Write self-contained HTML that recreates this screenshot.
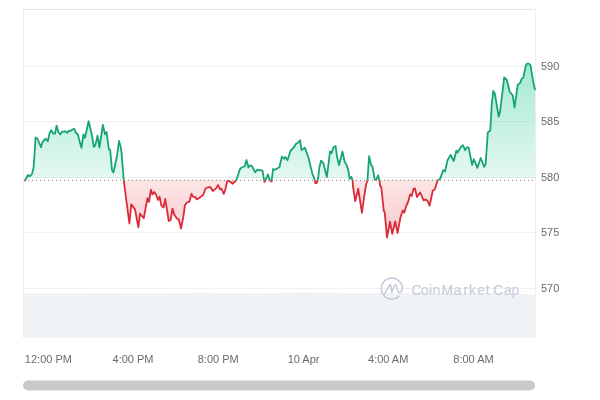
<!DOCTYPE html>
<html><head><meta charset="utf-8"><title>Chart</title>
<style>
html,body{margin:0;padding:0;background:#fff;}
body{width:600px;height:400px;overflow:hidden;position:relative;font-family:"Liberation Sans",Arial,sans-serif;}
svg{position:absolute;left:0;top:0;display:block}
.xl{font-size:11px;fill:#6b6b70}
.yl{font-size:11px;fill:#6b6b70}
.wm{font-size:14px;fill:#c9cdda;stroke:#c9cdda;stroke-width:0.15px}
</style></head><body>
<svg width="600" height="400" viewBox="0 0 600 400">
<defs>
<linearGradient id="gg" gradientUnits="userSpaceOnUse" x1="0" y1="63" x2="0" y2="180.4">
<stop offset="0" stop-color="#16c784" stop-opacity="0.39"/>
<stop offset="1" stop-color="#16c784" stop-opacity="0.11"/>
</linearGradient>
<linearGradient id="rg" gradientUnits="userSpaceOnUse" x1="0" y1="180.4" x2="0" y2="240">
<stop offset="0" stop-color="#ea3943" stop-opacity="0.13"/>
<stop offset="1" stop-color="#ea3943" stop-opacity="0.28"/>
</linearGradient>
<clipPath id="up"><rect x="0" y="0" width="600" height="180.4"/></clipPath>
<clipPath id="upf"><rect x="0" y="0" width="600" height="178"/></clipPath>
<clipPath id="dnf"><rect x="0" y="179.8" width="600" height="220"/></clipPath>
<clipPath id="dn"><rect x="0" y="180.4" width="600" height="219.6"/></clipPath>
</defs>
<!-- grid -->
<g stroke="#f0f0f0" stroke-width="1" shape-rendering="crispEdges">
<line x1="23" x2="536" y1="66.5" y2="66.5"/>
<line x1="23" x2="536" y1="121.5" y2="121.5"/>
<line x1="23" x2="536" y1="177.5" y2="177.5"/>
<line x1="23" x2="536" y1="232.5" y2="232.5"/>
<line x1="23" x2="536" y1="288.5" y2="288.5"/>
</g>
<!-- volume -->
<path d="M23,293.5 L60,293.6 L100,293 L150,293.4 L200,292.8 L260,293.2 L300,292.6 L360,293 L420,292.8 L470,293.2 L510,293 L520,293.6 L527,294.6 L535.5,295 L535.5,337.8 L23,337.8 Z" fill="#f0f3f6"/>
<!-- frame -->
<g stroke="#eeeeee" stroke-width="1" fill="none" shape-rendering="crispEdges">
<path d="M23.5,337.5 V9.5 M535.5,9.5 V337.5"/>
<path d="M23,9.5 H536" stroke="#e8e8e8"/>
</g>
<!-- areas -->
<path d="M25,180.5 L28,175 L30,176.2 L32,174 L33.5,168 L34.5,155 L35.6,137.5 L37.5,138.75 L41,147.25 L42.5,141.9 L45.6,138.75 L47.75,141.25 L49.75,132.5 L51.25,130.25 L53.1,133.5 L55,133.5 L56.6,125.6 L58.5,132.5 L60.25,134.4 L62.25,131.5 L63.75,131.9 L65.25,131.25 L67.25,132.9 L69.1,130.6 L70.6,131 L72.5,129.4 L74.4,129 L76,133.1 L77.75,134 L79.75,141.9 L81.5,147.75 L83.4,134.4 L85,137.75 L88.6,121.2 L91.9,135 L93.75,146.9 L95.25,145.6 L97.5,135.6 L99.4,147.5 L102.9,125 L105,134.4 L106.5,131.9 L108.75,148.75 L110.2,150.25 L112,170 L113.5,172.5 L115.6,162.5 L117,156 L119,141 L120.6,146.25 L121.5,152 L123.75,180.3 L125,190 L126.25,200 L129.4,223.5 L131.25,204.4 L135,209.4 L138.4,227.25 L140,213.75 L143.75,218.1 L147.5,198.1 L149,201.9 L150.9,189.75 L152.5,194.4 L154.2,191.9 L156.1,194.7 L158,200 L159.6,196.7 L161.4,205.6 L163.5,207.5 L165.25,199 L168.75,221 L170.6,220 L172.5,208.75 L174.4,215 L176.9,218.5 L178.75,219.4 L181,228.5 L183.1,218.1 L185,205 L186.9,202.5 L189.4,201.7 L191.5,193.75 L193.1,196.9 L195,196.9 L196.9,199.4 L200.6,196.9 L203.1,195 L205.6,188.5 L208.1,187.25 L210.6,187.25 L212.75,191 L216.25,188.1 L218.1,185 L220,189.4 L221.5,188.75 L223.75,194 L225.6,188.5 L227.25,181 L229.4,181 L232.5,183.75 L236.25,180.25 L238.1,175 L239.75,169.4 L241.9,167.25 L244.75,166.5 L246.5,160 L248.4,167.5 L250,165.3 L251.9,166 L253.75,169.5 L255.25,172.25 L257.25,169.75 L262.5,170.6 L264.4,181.9 L265.6,180 L267.9,174.4 L269.75,180 L271.5,181.5 L273.1,169 L275,169.75 L279.4,167.25 L281.9,156.5 L284,158.75 L285.25,156.9 L287.5,160.25 L290.6,150.6 L293.75,147.5 L296.25,143.5 L298.1,142.75 L300,140.25 L301.5,150 L305,147.75 L308.75,158.75 L312.5,174.4 L314,177.5 L315.4,183.2 L316.6,183 L317.8,180.5 L319.4,167.5 L321,160.6 L323.1,162.6 L326.9,176.9 L330,151.5 L331.6,153.1 L333.5,147.25 L335.6,146 L336.9,156.25 L339,165 L342.5,151.5 L344.75,162.25 L346.25,164 L348.1,169.4 L349.75,178.75 L351.25,176.9 L352.75,180.6 L352.8,185 L355.2,201.2 L358.2,188.75 L361.95,212.75 L364.2,196.25 L366,185 L367.5,180 L369.1,156.25 L370.9,164.4 L372.5,166.9 L374.75,179.75 L376.25,179.75 L378.1,175.25 L379.4,180.6 L380.25,186.25 L381.3,187.2 L383.7,210.5 L384.75,212.75 L387,237.5 L390,221.75 L392.25,233.75 L395.25,221.3 L397.5,233 L400.5,217.25 L402.75,210.5 L404.25,212.75 L406.2,206 L408,202.25 L410.25,194.3 L411.75,195.8 L413.5,188.8 L415,188.5 L417,197 L420.15,192.5 L423.65,200.4 L425.75,199.5 L427.5,200.9 L429.6,205.6 L432.75,190.75 L434.85,189.35 L437.65,180.6 L440.1,178.85 L443.25,170.1 L445,171.5 L447.6,160.1 L450.6,154.9 L453.75,161 L456.4,150.5 L457.6,152.6 L460.75,147 L463,145.25 L465.1,150.15 L466.9,147.35 L468.6,147.35 L472.1,164.8 L473.9,159.25 L477.4,167.8 L480.7,158 L484.2,166.8 L485.6,164 L487.8,132.5 L490.3,130.5 L491.7,105 L493.25,91 L494.75,93.25 L498.7,116.5 L500,112 L504.2,77.5 L506.75,79.75 L509.75,91.75 L512.75,95.5 L514.55,107.5 L517.7,85 L520.25,82.75 L521.75,78.7 L523.25,77.8 L525.8,65.8 L527,63.7 L528.8,63.7 L530.45,65.2 L532.25,76 L534.2,86.5 L535,89.5 L535,178 L25,178 Z" fill="url(#gg)" clip-path="url(#upf)"/>
<path d="M25,180.5 L28,175 L30,176.2 L32,174 L33.5,168 L34.5,155 L35.6,137.5 L37.5,138.75 L41,147.25 L42.5,141.9 L45.6,138.75 L47.75,141.25 L49.75,132.5 L51.25,130.25 L53.1,133.5 L55,133.5 L56.6,125.6 L58.5,132.5 L60.25,134.4 L62.25,131.5 L63.75,131.9 L65.25,131.25 L67.25,132.9 L69.1,130.6 L70.6,131 L72.5,129.4 L74.4,129 L76,133.1 L77.75,134 L79.75,141.9 L81.5,147.75 L83.4,134.4 L85,137.75 L88.6,121.2 L91.9,135 L93.75,146.9 L95.25,145.6 L97.5,135.6 L99.4,147.5 L102.9,125 L105,134.4 L106.5,131.9 L108.75,148.75 L110.2,150.25 L112,170 L113.5,172.5 L115.6,162.5 L117,156 L119,141 L120.6,146.25 L121.5,152 L123.75,180.3 L125,190 L126.25,200 L129.4,223.5 L131.25,204.4 L135,209.4 L138.4,227.25 L140,213.75 L143.75,218.1 L147.5,198.1 L149,201.9 L150.9,189.75 L152.5,194.4 L154.2,191.9 L156.1,194.7 L158,200 L159.6,196.7 L161.4,205.6 L163.5,207.5 L165.25,199 L168.75,221 L170.6,220 L172.5,208.75 L174.4,215 L176.9,218.5 L178.75,219.4 L181,228.5 L183.1,218.1 L185,205 L186.9,202.5 L189.4,201.7 L191.5,193.75 L193.1,196.9 L195,196.9 L196.9,199.4 L200.6,196.9 L203.1,195 L205.6,188.5 L208.1,187.25 L210.6,187.25 L212.75,191 L216.25,188.1 L218.1,185 L220,189.4 L221.5,188.75 L223.75,194 L225.6,188.5 L227.25,181 L229.4,181 L232.5,183.75 L236.25,180.25 L238.1,175 L239.75,169.4 L241.9,167.25 L244.75,166.5 L246.5,160 L248.4,167.5 L250,165.3 L251.9,166 L253.75,169.5 L255.25,172.25 L257.25,169.75 L262.5,170.6 L264.4,181.9 L265.6,180 L267.9,174.4 L269.75,180 L271.5,181.5 L273.1,169 L275,169.75 L279.4,167.25 L281.9,156.5 L284,158.75 L285.25,156.9 L287.5,160.25 L290.6,150.6 L293.75,147.5 L296.25,143.5 L298.1,142.75 L300,140.25 L301.5,150 L305,147.75 L308.75,158.75 L312.5,174.4 L314,177.5 L315.4,183.2 L316.6,183 L317.8,180.5 L319.4,167.5 L321,160.6 L323.1,162.6 L326.9,176.9 L330,151.5 L331.6,153.1 L333.5,147.25 L335.6,146 L336.9,156.25 L339,165 L342.5,151.5 L344.75,162.25 L346.25,164 L348.1,169.4 L349.75,178.75 L351.25,176.9 L352.75,180.6 L352.8,185 L355.2,201.2 L358.2,188.75 L361.95,212.75 L364.2,196.25 L366,185 L367.5,180 L369.1,156.25 L370.9,164.4 L372.5,166.9 L374.75,179.75 L376.25,179.75 L378.1,175.25 L379.4,180.6 L380.25,186.25 L381.3,187.2 L383.7,210.5 L384.75,212.75 L387,237.5 L390,221.75 L392.25,233.75 L395.25,221.3 L397.5,233 L400.5,217.25 L402.75,210.5 L404.25,212.75 L406.2,206 L408,202.25 L410.25,194.3 L411.75,195.8 L413.5,188.8 L415,188.5 L417,197 L420.15,192.5 L423.65,200.4 L425.75,199.5 L427.5,200.9 L429.6,205.6 L432.75,190.75 L434.85,189.35 L437.65,180.6 L440.1,178.85 L443.25,170.1 L445,171.5 L447.6,160.1 L450.6,154.9 L453.75,161 L456.4,150.5 L457.6,152.6 L460.75,147 L463,145.25 L465.1,150.15 L466.9,147.35 L468.6,147.35 L472.1,164.8 L473.9,159.25 L477.4,167.8 L480.7,158 L484.2,166.8 L485.6,164 L487.8,132.5 L490.3,130.5 L491.7,105 L493.25,91 L494.75,93.25 L498.7,116.5 L500,112 L504.2,77.5 L506.75,79.75 L509.75,91.75 L512.75,95.5 L514.55,107.5 L517.7,85 L520.25,82.75 L521.75,78.7 L523.25,77.8 L525.8,65.8 L527,63.7 L528.8,63.7 L530.45,65.2 L532.25,76 L534.2,86.5 L535,89.5 L535,179.8 L25,179.8 Z" fill="url(#rg)" clip-path="url(#dnf)"/>
<!-- baseline -->
<line x1="24" x2="536" y1="180.4" y2="180.4" stroke="#707070" stroke-width="0.9" stroke-dasharray="1 3"/>
<!-- lines -->
<path d="M25,180.5 L28,175 L30,176.2 L32,174 L33.5,168 L34.5,155 L35.6,137.5 L37.5,138.75 L41,147.25 L42.5,141.9 L45.6,138.75 L47.75,141.25 L49.75,132.5 L51.25,130.25 L53.1,133.5 L55,133.5 L56.6,125.6 L58.5,132.5 L60.25,134.4 L62.25,131.5 L63.75,131.9 L65.25,131.25 L67.25,132.9 L69.1,130.6 L70.6,131 L72.5,129.4 L74.4,129 L76,133.1 L77.75,134 L79.75,141.9 L81.5,147.75 L83.4,134.4 L85,137.75 L88.6,121.2 L91.9,135 L93.75,146.9 L95.25,145.6 L97.5,135.6 L99.4,147.5 L102.9,125 L105,134.4 L106.5,131.9 L108.75,148.75 L110.2,150.25 L112,170 L113.5,172.5 L115.6,162.5 L117,156 L119,141 L120.6,146.25 L121.5,152 L123.75,180.3 L125,190 L126.25,200 L129.4,223.5 L131.25,204.4 L135,209.4 L138.4,227.25 L140,213.75 L143.75,218.1 L147.5,198.1 L149,201.9 L150.9,189.75 L152.5,194.4 L154.2,191.9 L156.1,194.7 L158,200 L159.6,196.7 L161.4,205.6 L163.5,207.5 L165.25,199 L168.75,221 L170.6,220 L172.5,208.75 L174.4,215 L176.9,218.5 L178.75,219.4 L181,228.5 L183.1,218.1 L185,205 L186.9,202.5 L189.4,201.7 L191.5,193.75 L193.1,196.9 L195,196.9 L196.9,199.4 L200.6,196.9 L203.1,195 L205.6,188.5 L208.1,187.25 L210.6,187.25 L212.75,191 L216.25,188.1 L218.1,185 L220,189.4 L221.5,188.75 L223.75,194 L225.6,188.5 L227.25,181 L229.4,181 L232.5,183.75 L236.25,180.25 L238.1,175 L239.75,169.4 L241.9,167.25 L244.75,166.5 L246.5,160 L248.4,167.5 L250,165.3 L251.9,166 L253.75,169.5 L255.25,172.25 L257.25,169.75 L262.5,170.6 L264.4,181.9 L265.6,180 L267.9,174.4 L269.75,180 L271.5,181.5 L273.1,169 L275,169.75 L279.4,167.25 L281.9,156.5 L284,158.75 L285.25,156.9 L287.5,160.25 L290.6,150.6 L293.75,147.5 L296.25,143.5 L298.1,142.75 L300,140.25 L301.5,150 L305,147.75 L308.75,158.75 L312.5,174.4 L314,177.5 L315.4,183.2 L316.6,183 L317.8,180.5 L319.4,167.5 L321,160.6 L323.1,162.6 L326.9,176.9 L330,151.5 L331.6,153.1 L333.5,147.25 L335.6,146 L336.9,156.25 L339,165 L342.5,151.5 L344.75,162.25 L346.25,164 L348.1,169.4 L349.75,178.75 L351.25,176.9 L352.75,180.6 L352.8,185 L355.2,201.2 L358.2,188.75 L361.95,212.75 L364.2,196.25 L366,185 L367.5,180 L369.1,156.25 L370.9,164.4 L372.5,166.9 L374.75,179.75 L376.25,179.75 L378.1,175.25 L379.4,180.6 L380.25,186.25 L381.3,187.2 L383.7,210.5 L384.75,212.75 L387,237.5 L390,221.75 L392.25,233.75 L395.25,221.3 L397.5,233 L400.5,217.25 L402.75,210.5 L404.25,212.75 L406.2,206 L408,202.25 L410.25,194.3 L411.75,195.8 L413.5,188.8 L415,188.5 L417,197 L420.15,192.5 L423.65,200.4 L425.75,199.5 L427.5,200.9 L429.6,205.6 L432.75,190.75 L434.85,189.35 L437.65,180.6 L440.1,178.85 L443.25,170.1 L445,171.5 L447.6,160.1 L450.6,154.9 L453.75,161 L456.4,150.5 L457.6,152.6 L460.75,147 L463,145.25 L465.1,150.15 L466.9,147.35 L468.6,147.35 L472.1,164.8 L473.9,159.25 L477.4,167.8 L480.7,158 L484.2,166.8 L485.6,164 L487.8,132.5 L490.3,130.5 L491.7,105 L493.25,91 L494.75,93.25 L498.7,116.5 L500,112 L504.2,77.5 L506.75,79.75 L509.75,91.75 L512.75,95.5 L514.55,107.5 L517.7,85 L520.25,82.75 L521.75,78.7 L523.25,77.8 L525.8,65.8 L527,63.7 L528.8,63.7 L530.45,65.2 L532.25,76 L534.2,86.5 L535,89.5" fill="none" stroke="#17a474" stroke-width="1.8" stroke-linejoin="round" stroke-linecap="round" clip-path="url(#up)"/>
<path d="M25,180.5 L28,175 L30,176.2 L32,174 L33.5,168 L34.5,155 L35.6,137.5 L37.5,138.75 L41,147.25 L42.5,141.9 L45.6,138.75 L47.75,141.25 L49.75,132.5 L51.25,130.25 L53.1,133.5 L55,133.5 L56.6,125.6 L58.5,132.5 L60.25,134.4 L62.25,131.5 L63.75,131.9 L65.25,131.25 L67.25,132.9 L69.1,130.6 L70.6,131 L72.5,129.4 L74.4,129 L76,133.1 L77.75,134 L79.75,141.9 L81.5,147.75 L83.4,134.4 L85,137.75 L88.6,121.2 L91.9,135 L93.75,146.9 L95.25,145.6 L97.5,135.6 L99.4,147.5 L102.9,125 L105,134.4 L106.5,131.9 L108.75,148.75 L110.2,150.25 L112,170 L113.5,172.5 L115.6,162.5 L117,156 L119,141 L120.6,146.25 L121.5,152 L123.75,180.3 L125,190 L126.25,200 L129.4,223.5 L131.25,204.4 L135,209.4 L138.4,227.25 L140,213.75 L143.75,218.1 L147.5,198.1 L149,201.9 L150.9,189.75 L152.5,194.4 L154.2,191.9 L156.1,194.7 L158,200 L159.6,196.7 L161.4,205.6 L163.5,207.5 L165.25,199 L168.75,221 L170.6,220 L172.5,208.75 L174.4,215 L176.9,218.5 L178.75,219.4 L181,228.5 L183.1,218.1 L185,205 L186.9,202.5 L189.4,201.7 L191.5,193.75 L193.1,196.9 L195,196.9 L196.9,199.4 L200.6,196.9 L203.1,195 L205.6,188.5 L208.1,187.25 L210.6,187.25 L212.75,191 L216.25,188.1 L218.1,185 L220,189.4 L221.5,188.75 L223.75,194 L225.6,188.5 L227.25,181 L229.4,181 L232.5,183.75 L236.25,180.25 L238.1,175 L239.75,169.4 L241.9,167.25 L244.75,166.5 L246.5,160 L248.4,167.5 L250,165.3 L251.9,166 L253.75,169.5 L255.25,172.25 L257.25,169.75 L262.5,170.6 L264.4,181.9 L265.6,180 L267.9,174.4 L269.75,180 L271.5,181.5 L273.1,169 L275,169.75 L279.4,167.25 L281.9,156.5 L284,158.75 L285.25,156.9 L287.5,160.25 L290.6,150.6 L293.75,147.5 L296.25,143.5 L298.1,142.75 L300,140.25 L301.5,150 L305,147.75 L308.75,158.75 L312.5,174.4 L314,177.5 L315.4,183.2 L316.6,183 L317.8,180.5 L319.4,167.5 L321,160.6 L323.1,162.6 L326.9,176.9 L330,151.5 L331.6,153.1 L333.5,147.25 L335.6,146 L336.9,156.25 L339,165 L342.5,151.5 L344.75,162.25 L346.25,164 L348.1,169.4 L349.75,178.75 L351.25,176.9 L352.75,180.6 L352.8,185 L355.2,201.2 L358.2,188.75 L361.95,212.75 L364.2,196.25 L366,185 L367.5,180 L369.1,156.25 L370.9,164.4 L372.5,166.9 L374.75,179.75 L376.25,179.75 L378.1,175.25 L379.4,180.6 L380.25,186.25 L381.3,187.2 L383.7,210.5 L384.75,212.75 L387,237.5 L390,221.75 L392.25,233.75 L395.25,221.3 L397.5,233 L400.5,217.25 L402.75,210.5 L404.25,212.75 L406.2,206 L408,202.25 L410.25,194.3 L411.75,195.8 L413.5,188.8 L415,188.5 L417,197 L420.15,192.5 L423.65,200.4 L425.75,199.5 L427.5,200.9 L429.6,205.6 L432.75,190.75 L434.85,189.35 L437.65,180.6 L440.1,178.85 L443.25,170.1 L445,171.5 L447.6,160.1 L450.6,154.9 L453.75,161 L456.4,150.5 L457.6,152.6 L460.75,147 L463,145.25 L465.1,150.15 L466.9,147.35 L468.6,147.35 L472.1,164.8 L473.9,159.25 L477.4,167.8 L480.7,158 L484.2,166.8 L485.6,164 L487.8,132.5 L490.3,130.5 L491.7,105 L493.25,91 L494.75,93.25 L498.7,116.5 L500,112 L504.2,77.5 L506.75,79.75 L509.75,91.75 L512.75,95.5 L514.55,107.5 L517.7,85 L520.25,82.75 L521.75,78.7 L523.25,77.8 L525.8,65.8 L527,63.7 L528.8,63.7 L530.45,65.2 L532.25,76 L534.2,86.5 L535,89.5" fill="none" stroke="#d92b38" stroke-width="1.8" stroke-linejoin="round" stroke-linecap="round" clip-path="url(#dn)"/>
<!-- watermark -->
<g fill="none" stroke="#c6cad8" stroke-width="1.5" stroke-linecap="round" stroke-linejoin="round">
<path d="M384,295 L389.3,285.6 Q390.3,283.8 390.9,285.8 L391.8,292.6 L394.3,285.8 Q395.4,283.6 396.3,285.8 L397.4,290 Q398.6,293.3 400.5,292 Q402.3,290.6 402.3,288.2 A10.5,10.5 0 1 0 399.1,296.1"/>
</g>
<text class="wm" transform="translate(0,295) scale(1,1.06)" x="411.55 421 429 432.6 441.5 453.45 463.4 469.1 477.15 485.7 493.35 503.95 511.6" y="0">CoinMarketCap</text>
<!-- y labels -->
<g class="yl">
<text x="541" y="70">590</text>
<text x="541" y="125.3">585</text>
<text x="541" y="181">580</text>
<text x="541" y="236.3">575</text>
<text x="541" y="292">570</text>
</g>
<!-- x labels -->
<g class="xl" text-anchor="middle">
<text x="48.4" y="363">12:00 PM</text>
<text x="133" y="363">4:00 PM</text>
<text x="218.2" y="363">8:00 PM</text>
<text x="303.6" y="363">10 Apr</text>
<text x="388.2" y="363">4:00 AM</text>
<text x="473.5" y="363">8:00 AM</text>
</g>
<!-- scrollbar -->
<rect x="23" y="380.5" width="512" height="10" rx="5" ry="5" fill="#c9c9c9"/>
</svg>
</body></html>
